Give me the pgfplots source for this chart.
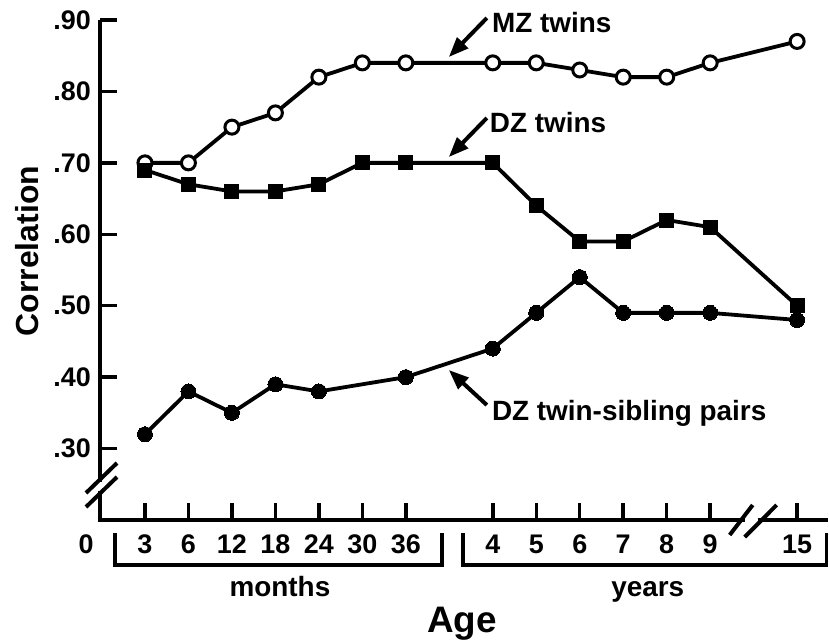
\documentclass[border=0pt]{standalone}
\usepackage{pgfplots}
\pgfplotsset{compat=1.18}
\usepackage{fontspec}
\setmainfont{Liberation Sans}
\usetikzlibrary{arrows.meta}
\begin{document}
\begin{tikzpicture}
\useasboundingbox (0,0) rectangle (829bp,644bp);
\begin{axis}[
  at={(100bp,124bp)}, anchor=south west,
  scale only axis, width=728bp, height=500bp,
  xmin=-0.034, xmax=16.71, ymin=0.2, ymax=0.9,
  axis lines*=left, axis line style={draw=none},
  clip=false,
  tick align=inside, major tick length=17bp,
  tick style={black, line width=3.5bp},
  xtick={1,2,3,4,5,6,7,9,10,11,12,13,14,16},
  xticklabels={3,6,12,18,24,30,36,4,5,6,7,8,9,15},
  ytick={0.3,0.4,0.5,0.6,0.7,0.8,0.9},
  yticklabels={.30,.40,.50,.60,.70,.80,.90},
  x tick label style={font=\bfseries\fontsize{27}{28}\selectfont, anchor=base, yshift=-33bp},
  y tick label style={font=\bfseries\fontsize{27}{28}\selectfont, anchor=east, inner sep=0pt, xshift=-9bp},
  every axis plot/.append style={line width=3.8bp, black},
]
% axis lines with breaks
\draw[line width=4bp] (axis cs:-0.034,0.9) -- (axis cs:-0.034,0.2532);
\draw[line width=4bp, line join=miter] (axis cs:-0.034,0.2406) -- (axis cs:-0.034,0.2) -- (axis cs:14.794,0.2);
\draw[line width=4bp] (axis cs:15.093,0.2) -- (axis cs:16.71,0.2);
\draw[line width=4bp] (axis cs:-0.356,0.2378) -- (axis cs:0.357,0.2798);
\draw[line width=4bp] (axis cs:-0.356,0.2182) -- (axis cs:0.357,0.2602);
\draw[line width=4bp] (axis cs:14.449,0.179) -- (axis cs:14.978,0.221);
\draw[line width=4bp] (axis cs:14.794,0.1762) -- (axis cs:15.529,0.221);

% MZ twins
\addplot[mark=*, mark size=7bp, mark options={fill=white, draw=black, line width=3bp}] coordinates {
 (1,.70) (2,.70) (3,.75) (4,.77) (5,.82) (6,.84) (7,.84) (9,.84) (10,.84) (11,.83) (12,.82) (13,.82) (14,.84) (16,.87)};
% DZ twins
\addplot[mark=square*, mark size=7bp, mark options={fill=black, draw=black, line width=0bp}] coordinates {
 (1,.69) (2,.67) (3,.66) (4,.66) (5,.67) (6,.70) (7,.70) (9,.70) (10,.64) (11,.59) (12,.59) (13,.62) (14,.61) (16,.50)};
% DZ twin-sibling pairs
\addplot[mark=*, mark size=7.5bp, mark options={fill=black, draw=black, line width=0bp}] coordinates {
 (1,.32) (2,.38) (3,.35) (4,.39) (5,.38) (7,.40) (9,.44) (10,.49) (11,.54) (12,.49) (13,.49) (14,.49) (16,.48)};

% annotations
\node[anchor=base west, inner sep=0pt, font=\bfseries\fontsize{28}{30}\selectfont] at (axis cs:8.978,0.8832) {MZ twins};
\node[anchor=base west, inner sep=0pt, font=\bfseries\fontsize{28}{30}\selectfont] at (axis cs:8.93,0.7432) {DZ twins};
\node[anchor=base west, inner sep=0pt, font=\bfseries\fontsize{28}{30}\selectfont] at (axis cs:8.978,0.34) {DZ twin-sibling pairs};
\draw[line width=4bp, -{Triangle[length=20bp,width=15bp]}] (axis cs:8.863,0.9028) -- (axis cs:7.989,0.8482);
\draw[line width=4bp, -{Triangle[length=20bp,width=15bp]}] (axis cs:8.863,0.7628) -- (axis cs:7.989,0.7082);
\draw[line width=4bp, -{Triangle[length=20bp,width=15bp]}] (axis cs:8.863,0.361) -- (axis cs:7.989,0.41);

% zero label and brackets
\node[anchor=base, inner sep=0pt, font=\bfseries\fontsize{27}{28}\selectfont] at (axis cs:-0.356,0.1538) {0};
\draw[line width=3.5bp, line join=miter] (axis cs:0.311,0.1818) -- (axis cs:0.311,0.137) -- (axis cs:7.828,0.137) -- (axis cs:7.828,0.1818);
\draw[line width=3.5bp, line join=miter] (axis cs:8.311,0.1818) -- (axis cs:8.311,0.137) -- (axis cs:16.68,0.137) -- (axis cs:16.68,0.1818);
\node[anchor=base, inner sep=0pt, font=\bfseries\fontsize{28}{30}\selectfont] at (axis cs:4.104,0.0922) {months};
\node[anchor=base, inner sep=0pt, font=\bfseries\fontsize{28}{30}\selectfont] at (axis cs:12.564,0.0922) {years};
\node[anchor=base, inner sep=0pt, font=\bfseries\fontsize{37}{40}\selectfont] at (axis cs:8.288,0.0418) {Age};
\node[anchor=base, inner sep=0pt, rotate=90, font=\bfseries\fontsize{32}{34}\selectfont] at (axis cs:-1.459,0.5766) {Correlation};
\end{axis}
\end{tikzpicture}
\end{document}
